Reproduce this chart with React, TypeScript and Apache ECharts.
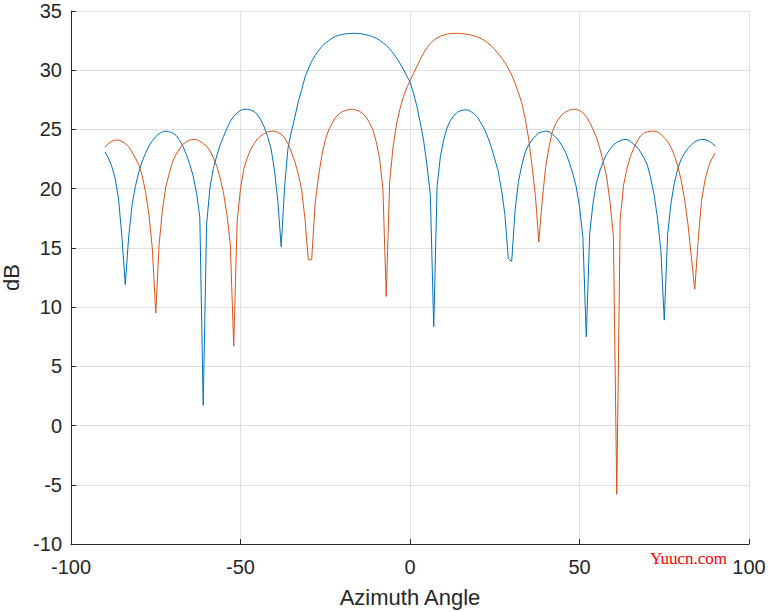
import React, { useEffect, useRef } from "react";
import * as echarts from "echarts";

const ANGLES = [
  -90, -89, -88, -87, -86, -85, -84, -83, -82, -81, -80, -79, -78, -77, -76, -75, -74, -73, -72, -71,
  -70, -69, -68, -67, -66, -65, -64, -63, -62, -61, -60, -59, -58, -57, -56, -55, -54, -53, -52, -51,
  -50, -49, -48, -47, -46, -45, -44, -43, -42, -41, -40, -39, -38, -37, -36, -35, -34, -33, -32, -31,
  -30, -29, -28, -27, -26, -25, -24, -23, -22, -21, -20, -19, -18, -17, -16, -15, -14, -13, -12, -11,
  -10, -9, -8, -7, -6, -5, -4, -3, -2, -1, 0, 1, 2, 3, 4, 5, 6, 7, 8, 9,
  10, 11, 12, 13, 14, 15, 16, 17, 18, 19, 20, 21, 22, 23, 24, 25, 26, 27, 28, 29,
  30, 31, 32, 33, 34, 35, 36, 37, 38, 39, 40, 41, 42, 43, 44, 45, 46, 47, 48, 49,
  50, 51, 52, 53, 54, 55, 56, 57, 58, 59, 60, 61, 62, 63, 64, 65, 66, 67, 68, 69,
  70, 71, 72, 73, 74, 75, 76, 77, 78, 79, 80, 81, 82, 83, 84, 85, 86, 87, 88, 89, 90,
];

// blue curve (dB), one value per angle above
const BLUE_DB = [
  23.1, 22.6, 21.9, 20.9, 19.2, 16.0, 11.9, 15.9, 18.6, 20.2, 21.4, 22.3, 23.0, 23.6, 24.05, 24.4, 24.65, 24.8, 24.86, 24.8,
  24.7, 24.5, 24.1, 23.6, 22.9, 22.1, 21.1, 19.7, 17.6, 1.7, 17.0, 20.1, 21.7, 22.8, 23.7, 24.4, 25.1, 25.7, 26.1, 26.4,
  26.6, 26.7, 26.7, 26.65, 26.5, 26.25, 25.8, 25.2, 24.4, 23.4, 21.6, 19.0, 15.1, 20.1, 23.4, 24.8, 26.0, 27.3, 28.3, 29.4,
  30.1, 30.75, 31.25, 31.65, 32.0, 32.3, 32.5, 32.7, 32.85, 32.95, 33.02, 33.07, 33.1, 33.11, 33.11, 33.1, 33.06, 33.0, 32.93, 32.83,
  32.7, 32.53, 32.33, 32.1, 31.8, 31.45, 31.05, 30.6, 30.1, 29.55, 29.0, 28.1, 27.0, 25.6, 24.1, 22.0, 19.5, 8.35, 20.2, 22.8,
  24.2, 25.2, 25.8, 26.2, 26.45, 26.6, 26.65, 26.65, 26.5, 26.3, 26.0, 25.5, 25.0, 24.3, 23.5, 22.5, 21.5, 19.9, 17.8, 14.1,
  13.85, 18.2, 20.6, 22.0, 23.1, 23.7, 24.1, 24.45, 24.7, 24.8, 24.86, 24.8, 24.6, 24.35, 24.0, 23.55, 23.0, 22.2, 21.3, 20.2,
  18.5, 15.9, 7.5, 16.2, 18.8, 20.5, 21.5, 22.3, 22.9, 23.35, 23.7, 23.9, 24.05, 24.15, 24.15, 24.0, 23.75, 23.5, 23.1, 22.6,
  22.0, 20.9, 19.5, 17.5, 14.8, 8.9, 16.15, 18.8, 20.5, 21.7, 22.5, 23.0, 23.4, 23.7, 23.95, 24.1, 24.15, 24.15, 24.05, 23.85, 23.6,
];

// orange curve (dB), one value per angle above
const ORANGE_DB = [
  23.5, 23.8, 24.0, 24.1, 24.1, 24.0, 23.8, 23.55, 23.1, 22.6, 22.0, 21.1, 19.7, 17.8, 14.9, 9.5, 15.3, 18.3, 20.2, 21.3,
  22.3, 22.9, 23.35, 23.75, 23.95, 24.1, 24.15, 24.15, 24.0, 23.8, 23.6, 23.2, 22.6, 21.9, 20.9, 19.6, 17.8, 15.3, 6.7, 17.2,
  20.0, 21.7, 22.6, 23.3, 23.8, 24.2, 24.45, 24.65, 24.8, 24.85, 24.86, 24.75, 24.6, 24.3, 23.8, 23.1, 22.3, 21.3, 20.0, 17.5,
  14.0, 14.0, 18.7, 21.0, 22.8, 24.1, 24.95, 25.5, 26.0, 26.3, 26.5, 26.6, 26.7, 26.7, 26.65, 26.55, 26.35, 26.05, 25.6, 25.0,
  24.0, 22.6, 20.0, 10.9, 20.6, 23.5, 25.4, 26.7, 27.7, 28.5, 29.1, 29.7, 30.3, 30.9, 31.45, 31.9, 32.25, 32.52, 32.73, 32.88,
  32.98, 33.05, 33.09, 33.11, 33.11, 33.1, 33.07, 33.03, 32.97, 32.89, 32.79, 32.66, 32.5, 32.3, 32.05, 31.75, 31.4, 31.05, 30.65, 30.15,
  29.6, 28.9, 28.1, 27.2, 25.9, 24.2, 21.9, 19.4, 15.5, 19.0, 21.8, 23.5, 24.8, 25.5, 25.95, 26.3, 26.5, 26.65, 26.7, 26.7,
  26.6, 26.4, 26.1, 25.6, 25.0, 24.35, 23.4, 22.3, 21.0, 18.9, 16.0, -5.8, 17.4, 20.3, 21.7, 22.7, 23.4, 24.0, 24.45, 24.7,
  24.8, 24.85, 24.86, 24.8, 24.6, 24.3, 24.0, 23.5, 22.8, 21.9, 20.7, 19.1, 17.0, 14.2, 11.5, 15.6, 19.0, 20.7, 21.8, 22.5, 23.0,
];

const X_TICKS = [-100, -50, 0, 50, 100];
const Y_TICKS = [-10, -5, 0, 5, 10, 15, 20, 25, 30, 35];

const TEXT_COLOR = "#262626";
const GRID_COLOR = "#DFDFDF";
const FONT = "'Liberation Sans', Arial, Helvetica, sans-serif";

export default function App() {
  const ref = useRef<HTMLDivElement>(null);

  useEffect(() => {
    if (!ref.current) return;
    const chart = echarts.init(ref.current, null, { renderer: "svg" });
    const blue = ANGLES.map((a, i) => [a, BLUE_DB[i]]);
    const orange = ANGLES.map((a, i) => [a, ORANGE_DB[i]]);

    chart.setOption({
      animation: false,
      backgroundColor: "#ffffff",
      grid: {
        left: 71,
        right: 19,
        top: 11,
        bottom: 68,
        containLabel: false,
        outerBoundsMode: "none",
      },
      xAxis: {
        type: "value",
        min: X_TICKS[0],
        max: X_TICKS[X_TICKS.length - 1],
        interval: 50,
        name: "Azimuth Angle",
        nameLocation: "middle",
        nameGap: 42,
        nameTextStyle: { color: TEXT_COLOR, fontSize: 22, fontFamily: FONT },
        axisLine: { show: true, onZero: false, lineStyle: { color: TEXT_COLOR, width: 1 } },
        axisTick: { show: true, inside: true, length: 5, lineStyle: { color: TEXT_COLOR } },
        axisLabel: { color: TEXT_COLOR, fontSize: 20, fontFamily: FONT, margin: 13, hideOverlap: false },
        splitLine: { show: true, lineStyle: { color: GRID_COLOR, width: 1 } },
      },
      yAxis: {
        type: "value",
        min: Y_TICKS[0],
        max: Y_TICKS[Y_TICKS.length - 1],
        interval: 5,
        name: "dB",
        nameLocation: "middle",
        nameRotate: 90,
        nameGap: 46,
        nameTextStyle: { color: TEXT_COLOR, fontSize: 22, fontFamily: FONT },
        axisLine: { show: true, onZero: false, lineStyle: { color: TEXT_COLOR, width: 1 } },
        axisTick: { show: true, inside: true, length: 5, lineStyle: { color: TEXT_COLOR } },
        axisLabel: { color: TEXT_COLOR, fontSize: 20, fontFamily: FONT, margin: 9 },
        splitLine: { show: true, lineStyle: { color: GRID_COLOR, width: 1 } },
      },
      graphic: [
        {
          type: "text",
          left: 650,
          top: 550,
          style: {
            text: "Yuucn.com",
            fill: "#FF0000",
            font: "17px 'Liberation Serif', 'Times New Roman', serif",
          },
        },
      ],
      series: [
        {
          type: "line",
          data: blue,
          showSymbol: false,
          symbol: "none",
          lineStyle: { color: "#0072BD", width: 1 },
          itemStyle: { color: "#0072BD" },
        },
        {
          type: "line",
          data: orange,
          showSymbol: false,
          symbol: "none",
          lineStyle: { color: "#D95319", width: 1 },
          itemStyle: { color: "#D95319" },
        },
      ],
    });

    return () => chart.dispose();
  }, []);

  return (
    <div
      ref={ref}
      style={{ position: "fixed", left: 0, top: 0, width: 768, height: 612, background: "#fff" }}
    />
  );
}
